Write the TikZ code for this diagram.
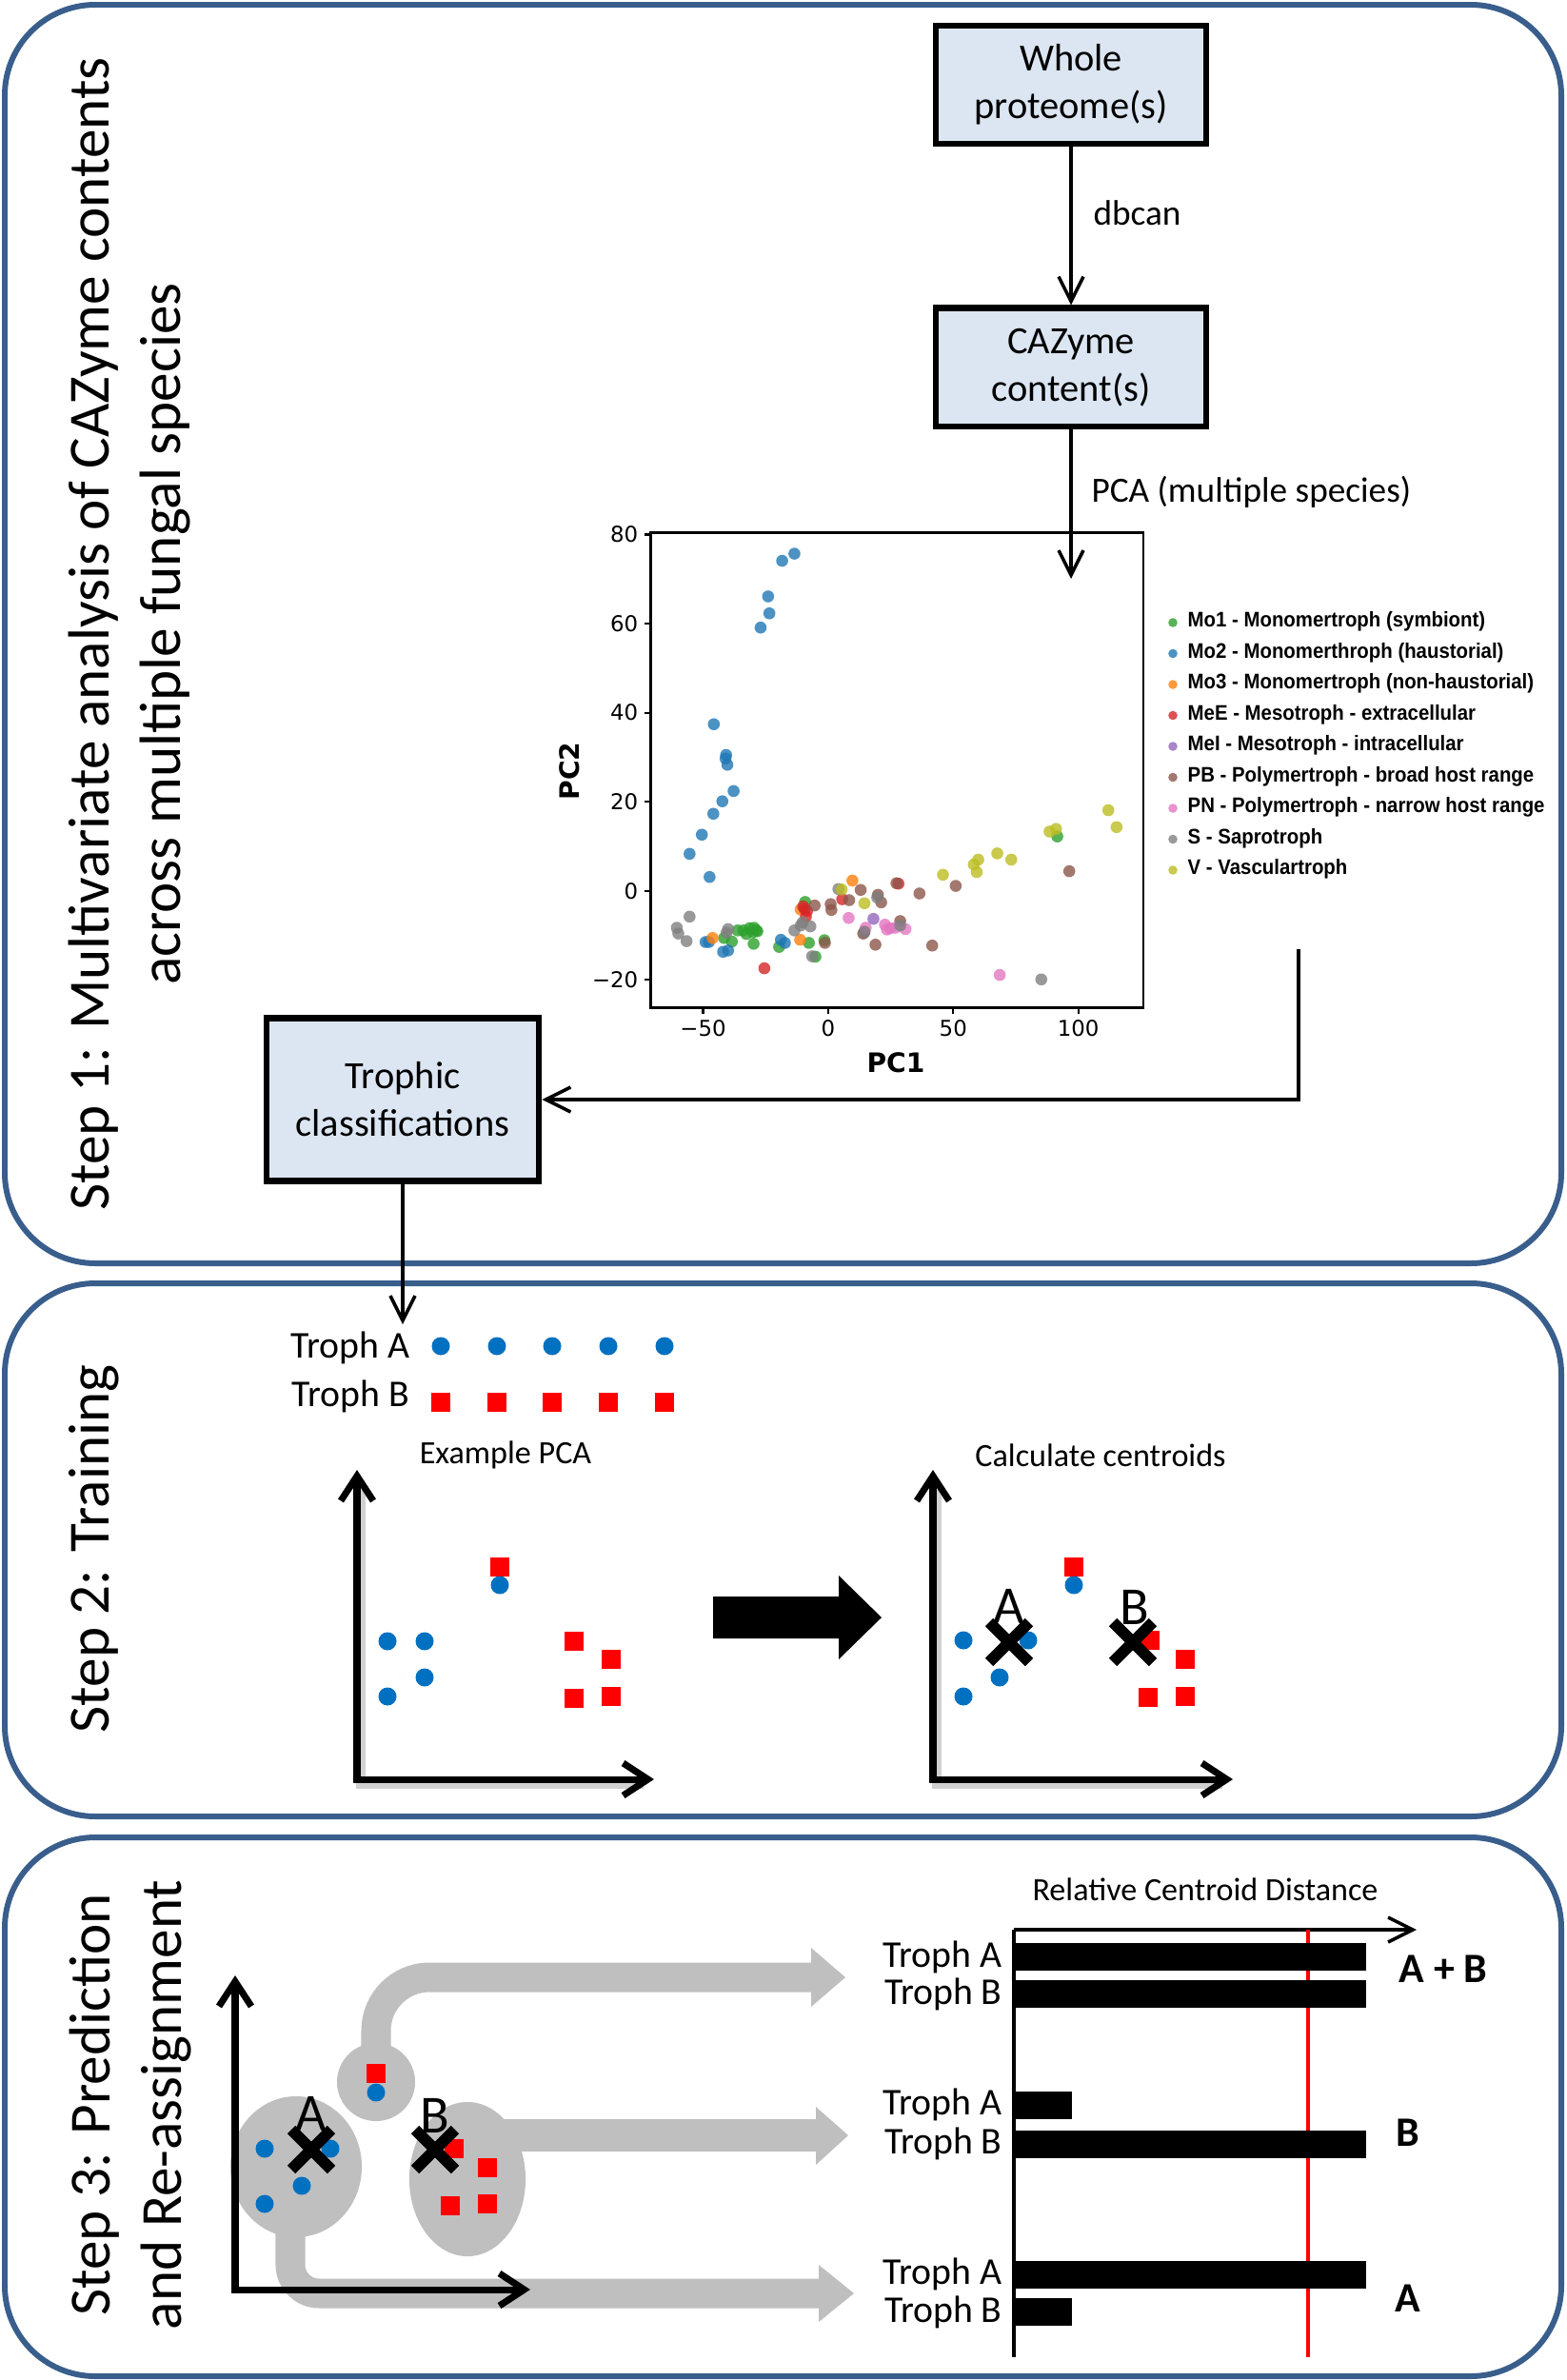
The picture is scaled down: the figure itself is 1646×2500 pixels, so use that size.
\documentclass[tikz,border=0pt]{standalone}
\usepackage{fontspec}
\setmainfont{Carlito}
\newfontfamily\plotfont{DejaVu Sans}
\newfontfamily\legendfont{Liberation Sans}[FakeStretch=0.92]
\usetikzlibrary{shapes.geometric, shapes.misc, arrows.meta, positioning, calc}
\definecolor{panelblue}{RGB}{57,94,140}
\definecolor{boxblue}{RGB}{220,230,242}
\definecolor{dotblue}{RGB}{0,112,192}
\definecolor{sqred}{RGB}{255,0,0}
\definecolor{bandgray}{RGB}{191,191,191}
\definecolor{mogreen}{RGB}{44,160,44}
\definecolor{moblue}{RGB}{31,119,180}
\definecolor{moorange}{RGB}{255,127,14}
\definecolor{meered}{RGB}{214,39,40}
\definecolor{meipurple}{RGB}{148,103,189}
\definecolor{pbbrown}{RGB}{140,86,75}
\definecolor{pnpink}{RGB}{227,119,194}
\definecolor{sgray}{RGB}{127,127,127}
\definecolor{volive}{RGB}{188,189,34}

\begin{document}
\begin{tikzpicture}[
    x=0.01cm, y=-0.01cm,
    panel/.style={draw=panelblue, line width=1.7pt, rounded corners=0.95cm},
    box/.style={rectangle, draw, line width=1.9pt, fill=boxblue, minimum width=2.84cm, minimum height=1.24cm, align=center, font=\fontsize{11.5}{14.2}\selectfont},
    arrow/.style={-{Straight Barb[length=2.6mm, width=2.6mm]}, line width=1pt},
    edgelbl/.style={font=\fontsize{10.6}{12}\selectfont},
    steplbl/.style={rotate=90, align=center, font=\fontsize{17.4}{21.5}\selectfont},
    tickl/.style={font=\plotfont\fontsize{6.5}{7}\selectfont, inner sep=1.5pt},
    pclbl/.style={font=\plotfont\bfseries\fontsize{8}{9}\selectfont},
    legendlbl/.style={anchor=west, inner sep=0, font=\legendfont\bfseries\fontsize{6.3}{7}\selectfont},
    trophlbl/.style={font=\fontsize{11.3}{13}\selectfont},
    smalllbl/.style={font=\fontsize{9.7}{11}\selectfont},
    bluedot/.style={circle, fill=dotblue, minimum size=0.19cm, inner sep=0},
    redsq/.style={rectangle, fill=sqred, minimum size=0.2cm, inner sep=0},
    axisarrow/.style={line width=2pt, arrows={Straight Barb[length=2.6mm, width=3.4mm]-Straight Barb[length=2.6mm, width=3.4mm]}},
    axisshadow/.style={draw=black!18, line width=3pt, shift={(0.04cm,-0.05cm)}},
    centroid/.style={cross out, draw=black, line width=3.4pt, minimum size=0.3cm, inner sep=0},
    cname/.style={font=\fontsize{16}{18}\selectfont, inner sep=0},
    cluster/.style={ellipse, fill=bandgray, inner sep=0},
    band/.style={draw=bandgray, line width=0.31cm},
    bar/.style={rectangle, fill=black, anchor=west, minimum height=0.29cm, inner sep=0},
    result/.style={font=\bfseries\fontsize{12.5}{14}\selectfont}
]
\useasboundingbox (0,0) rectangle (1646,2500);

% Panels
\draw[panel] (5,5) rectangle (1640,1327);
\draw[panel] (5,1348) rectangle (1640,1908);
\draw[panel] (5,1930) rectangle (1640,2496);

% Step labels
\node[steplbl] (step1) at (136,666) {Step 1: Multivariate analysis of CAZyme contents\\across multiple fungal species};
\node[steplbl] (step2) at (99,1627) {Step 2: Training};
\node[steplbl] (step3) at (137,2211) {Step 3: Prediction\\and Re-assignment};

% Step 1: pipeline
\node[box] (whole) at (1125,89) {Whole\\proteome(s)};
\node[box, below=1.66cm of whole] (cazyme) {CAZyme\\content(s)};
\node[box, minimum width=2.86cm, minimum height=1.71cm] (trophic) at (423,1155) {Trophic\\classifications};
\coordinate (pcatip) at (1125,608);
\coordinate (plotout) at (1364,997);
\coordinate (trainin) at (423,1391);

\draw[arrow] (whole) -- node[edgelbl, right=0.1cm, pos=0.42] (dbcan) {dbcan} (cazyme);

% PCA scatter
\begin{scope}[shift={(869.9,935.7)}, x=0.02626cm, y=0.04675cm]
\draw[line width=0.7pt] (-70.9,-26.2) rectangle (126.1,80.4);
\foreach \y/\l in {-20/−20, 0/0, 20/20, 40/40, 60/60, 80/80}
  \draw[line width=0.6pt] (-70.9,\y) -- ++(-0.07cm,0) node[left, tickl] (yt\y) {\l};
\foreach \x/\l in {-50/−50, 0/0, 50/50, 100/100}
  \draw[line width=0.6pt] (\x,-26.2) -- ++(0,-0.07cm) node[below, tickl] (xt\x) {\l};
\foreach \x/\y in {-36.2/-8.9, -33.9/-8.9, -31.4/-8.4, -28.8/-8.9, -30.1/-9.3, -32.7/-9.7, -28.3/-9.1, -29.6/-8.3, -41.6/-10.6, -38.5/-11.4, -29.8/-11.9, -19.6/-12.6, -9.2/-2.5, -7.7/-11.7, -5.1/-14.8, -1.5/-11.1, 91.6/12.2}
  \fill[mogreen, fill opacity=0.8] (\x,\y) circle[radius=0.063cm];
\foreach \x/\y in {-13.5/75.7, -18.4/74.1, -24/66.1, -23.5/62.3, -27/59.1, -45.7/37.4, -40.8/30.5, -41/29.7, -40.3/28.3, -37.8/22.4, -42.3/20.1, -45.9/17.3, -50.5/12.6, -55.4/8.3, -47.4/3.1, -49/-11.5, -47.7/-11.5, -42/-13.7, -40/-13.4, -18.9/-11, -17.3/-11.7}
  \fill[moblue, fill opacity=0.8] (\x,\y) circle[radius=0.063cm];
\foreach \x/\y in {-46.2/-10.6, -11.2/-11, 9.7/2.3, -11/-4.2}
  \fill[moorange, fill opacity=0.8] (\x,\y) circle[radius=0.063cm];
\foreach \x/\y in {-25.5/-17.4, -9.4/-4.1, -8.4/-4.5, -8.9/-5.8, 5.6/-1.9, 28.1/1.6, -10/-3.5}
  \fill[meered, fill opacity=0.8] (\x,\y) circle[radius=0.063cm];
\foreach \x/\y in {18.1/-6.3, 14.5/-9.3}
  \fill[meipurple, fill opacity=0.8] (\x,\y) circle[radius=0.063cm];
\foreach \x/\y in {-5.4/-3.3, 1/-3, 1.3/-4.3, 8.4/-2.1, 13/0.2, 19.9/-0.9, 21.2/-2.6, 27.3/1.7, 36.5/-0.6, 51/1.1, 96.4/4.4, 41.6/-12.3, 18.9/-12.1, -1.3/-11.7, 28.8/-6.8, 14/-9.6}
  \fill[pbbrown, fill opacity=0.8] (\x,\y) circle[radius=0.063cm];
\foreach \x/\y in {8.2/-6.1, 15/-8.3, 22.7/-7.6, 24.7/-8.4, 23.5/-8.7, 26.8/-8.3, 30.9/-8.6, 68.6/-18.9}
  \fill[pnpink, fill opacity=0.8] (\x,\y) circle[radius=0.063cm];
\foreach \x/\y in {-60.5/-8.3, -59.9/-9.6, -56.6/-11.3, -55.4/-5.8, -40.6/-9.4, -40/-8.6, -13.5/-8.9, -10.2/-7.1, -7.1/-8, -11/-7.8, -6.4/-14.7, 4.1/0.4, 19.6/-1.5, 14.5/-9.2, 28.8/-7.8, 85.2/-19.9}
  \fill[sgray, fill opacity=0.8] (\x,\y) circle[radius=0.063cm];
\foreach \x/\y in {5.4/0.3, 14.5/-2.8, 45.9/3.6, 58.2/5.9, 59.4/4.2, 60/7, 67.6/8.4, 73.2/7, 88.5/13.3, 91.1/13.9, 112/18.1, 115.3/14.3}
  \fill[volive, fill opacity=0.8] (\x,\y) circle[radius=0.063cm];
\end{scope}
\node[pclbl] (pc1) at (941,1116) {PC1};
\node[pclbl, rotate=90] (pc2) at (598,810) {PC2};

% Legend
\foreach \col/\lbl [count=\i from 0] in {mogreen/Mo1 - Monomertroph (symbiont), moblue/Mo2 - Monomerthroph (haustorial), moorange/Mo3 - Monomertroph (non-haustorial), meered/MeE - Mesotroph - extracellular, meipurple/MeI - Mesotroph - intracellular, pbbrown/PB - Polymertroph - broad host range, pnpink/PN - Polymertroph - narrow host range, sgray/S - Saprotroph, volive/V - Vasculartroph}
{
  \fill[\col, fill opacity=0.8] (1232,{654+32.5*\i}) circle[radius=0.048cm];
  \node[legendlbl] (leg\i) at (1247,{653+32.5*\i}) {\lbl};
}

\draw[arrow] (cazyme) -- node[edgelbl, right=0.08cm, pos=0.42] (pcalbl) {PCA (multiple species)} (pcatip);
\draw[arrow] (plotout) |- (trophic);

% Step 2: training
\node[trophlbl, anchor=east, inner sep=0] (trophA) at (431,1416) {Troph A};
\node[trophlbl, anchor=east, inner sep=0] (trophB) at (431,1467) {Troph B};
\draw[arrow] (trophic) -- (trainin);
\foreach \x [count=\i] in {463,522,580,639,698}
{
  \node[bluedot] (ta\i) at (\x,1414) {};
  \node[redsq] (tb\i) at (\x,1473) {};
}

\node[smalllbl] (expca) at (531,1528) {Example PCA};
\node[smalllbl] (calc) at (1156,1529) {Calculate centroids};

\draw[axisshadow] (375,1560) |- (672,1869);
\draw[axisarrow] (375,1544) |- (687,1869);
\foreach \x/\y [count=\i] in {525/1646, 603/1724, 642/1743, 603/1784, 642/1782}
  \node[redsq] (lr\i) at (\x,\y) {};
\foreach \x/\y [count=\i] in {525/1665, 407/1724, 446/1724, 446/1762, 407/1782}
  \node[bluedot] (lb\i) at (\x,\y) {};

\fill (749,1677) -- (881,1677) -- (881,1655) -- (926,1699) -- (881,1743) -- (881,1721) -- (749,1721) -- cycle;

\draw[axisshadow] (980,1560) |- (1280,1869);
\draw[axisarrow] (980,1544) |- (1295,1869);
\foreach \x/\y [count=\i] in {1128/1646, 1208/1723, 1245/1743, 1206/1783, 1245/1782}
  \node[redsq] (rr\i) at (\x,\y) {};
\foreach \x/\y [count=\i] in {1128/1665, 1012/1723, 1080/1723, 1050/1762, 1012/1782}
  \node[bluedot] (rb\i) at (\x,\y) {};
\node[cname] (nameA) at (1060,1687) {A};
\node[cname] (nameB) at (1192,1688) {B};
\node[centroid] (cenA) at (1060,1725) {};
\node[centroid] (cenB) at (1190,1725) {};

% Step 3: prediction
\node[cluster, minimum width=1.38cm, minimum height=1.48cm] (clA) at (311,2276) {};
\node[cluster, minimum width=1.22cm, minimum height=1.62cm] (clB) at (491,2289) {};
\node[cluster, minimum width=0.82cm, minimum height=0.82cm] (clAB) at (395,2187) {};
\coordinate (bandtop) at (852,2077);
\coordinate (bandmid) at (857,2243);
\coordinate (bandlow) at (860,2409);
\draw[band, rounded corners=0.56cm] (clAB.center) -- (395,2077) -- (bandtop);
\draw[band, line width=0.34cm] (491,2243) -- (bandmid);
\draw[band, rounded corners=0.3cm] (305,2276) -- (305,2409) -- (bandlow);
\fill[bandgray] (852,2046) -- (888,2077) -- (852,2108) -- cycle;
\fill[bandgray] (857,2213) -- (891,2243) -- (857,2274) -- cycle;
\fill[bandgray] (860,2379) -- (897,2409) -- (860,2439) -- cycle;

\draw[axisarrow] (247,2075) |- (557,2405);
\foreach \x/\y [count=\i] in {395/2178, 477/2257, 512/2277, 473/2317, 512/2315}
  \node[redsq] (pr\i) at (\x,\y) {};
\foreach \x/\y [count=\i] in {395/2198, 278/2257, 347/2257, 317/2296, 278/2315}
  \node[bluedot] (pb\i) at (\x,\y) {};
\node[cname] (predA) at (327,2220) {A};
\node[cname] (predB) at (457,2222) {B};
\node[centroid] (pcenA) at (327,2258) {};
\node[centroid] (pcenB) at (457,2258) {};

% Relative centroid distance bars
\node[smalllbl] (rcd) at (1266,1985) {Relative Centroid Distance};
\coordinate (bar0) at (1065,2027);
\coordinate (barend) at (1488,2027);
\draw[line width=1pt] (bar0) -- (1065,2476);
\draw[arrow] (bar0) -- (barend);
\draw[sqred, line width=1pt] (1374,2027) -- (1374,2476);

\node[bar, minimum width=3.69cm] (g1a) at (1065,2055.5) {};
\node[bar, minimum width=3.69cm] (g1b) at (1065,2094.5) {};
\node[bar, minimum width=0.60cm] (g2a) at (1065,2211) {};
\node[bar, minimum width=3.69cm] (g2b) at (1065,2252) {};
\node[bar, minimum width=3.69cm] (g3a) at (1065,2389) {};
\node[bar, minimum width=0.60cm] (g3b) at (1065,2428.5) {};
\foreach \g in {g1a,g2a,g3a}
  \node[trophlbl, left=0cm of \g] (l\g) {Troph A};
\foreach \g in {g1b,g2b,g3b}
  \node[trophlbl, left=0cm of \g] (l\g) {Troph B};

\node[result] (resAB) at (1516,2068) {A + B};
\node[result] (resB) at (1479,2240) {B};
\node[result] (resA) at (1479,2414) {A};

\end{tikzpicture}
\end{document}
